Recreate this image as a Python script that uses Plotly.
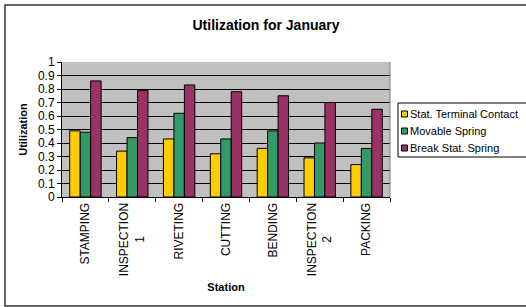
import plotly.graph_objects as go

NB = "\u00a0"
stations = ["STAMPING", "INSPECTION<br>1" + NB * 10, "RIVETING", "CUTTING", "BENDING", "INSPECTION<br>2" + NB * 10, "PACKING"]
series_names = ["Stat. Terminal Contact", "Movable Spring", "Break Stat. Spring"]
stat_terminal = [0.49, 0.34, 0.43, 0.32, 0.36, 0.29, 0.24]
movable_spring = [0.48, 0.44, 0.62, 0.43, 0.49, 0.40, 0.36]
break_spring = [0.86, 0.79, 0.83, 0.78, 0.75, 0.70, 0.65]
colors = ["#FFCC00", "#339966", "#993366"]
y_ticks = [0, 0.1, 0.2, 0.3, 0.4, 0.5, 0.6, 0.7, 0.8, 0.9, 1]
y_labels = ["0", "0.1", "0.2", "0.3", "0.4", "0.5", "0.6", "0.7", "0.8", "0.9", "1"]

font = "Liberation Sans, Arial, sans-serif"
fig = go.Figure()
for name, vals, col in zip(series_names, [stat_terminal, movable_spring, break_spring], colors):
    fig.add_trace(go.Bar(x=stations, y=vals, name=name, marker=dict(color=col, line=dict(color="black", width=1))))

W, H = 526, 307
L, R, T, B = 62, 136, 62, 110
pw, ph = W - L - R, H - T - B
def px(x): return (x - L) / pw
def py(y): return (H - B - y) / ph

fig.update_layout(
    width=W, height=H, margin=dict(l=L, r=R, t=T, b=B, autoexpand=False),
    paper_bgcolor="white", plot_bgcolor="#C0C0C0",
    barmode="group", bargap=0.33, bargroupgap=0,
    font=dict(family=font, size=11, color="black"),
    title=dict(text="<b>Utilization for January</b>", x=266 / W, xanchor="center", y=1 - 25 / H, yanchor="middle",
               font=dict(size=14, family=font)),
    showlegend=False,
    xaxis=dict(tickangle=-90, ticks="outside", ticklen=4, tickcolor="black", tickson="boundaries",
               showline=True, linecolor="black", linewidth=1,
               title=dict(text="<b>Station</b>", font=dict(size=11), standoff=8),
               tickfont=dict(size=12)),
    yaxis=dict(range=[0, 1], tickvals=y_ticks, ticktext=y_labels, ticks="outside", ticklen=4, tickcolor="black",
               showline=True, linecolor="black", linewidth=1, gridcolor="black", gridwidth=1,
               zeroline=False, title=dict(text="<b>Utilization</b>", font=dict(size=11), standoff=8),
               tickfont=dict(size=12)),
)
# outer chart border
fig.add_shape(type="rect", xref="paper", yref="paper", x0=px(5), x1=px(530), y0=py(306), y1=py(5),
              line=dict(color="#333333", width=1.5), layer="below")
fig.add_shape(type="line", xref="paper", yref="paper", x0=1, x1=1, y0=0, y1=1, line=dict(color="#808080", width=1))

# custom legend
fig.add_shape(type="rect", xref="paper", yref="paper", x0=px(398), x1=px(530), y0=py(157), y1=py(103),
              line=dict(color="black", width=1), fillcolor="white")
for i, (name, col) in enumerate(zip(series_names, colors)):
    cy = 114 + 17 * i
    fig.add_shape(type="rect", xref="paper", yref="paper", x0=px(401.5), x1=px(407.5), y0=py(cy + 3), y1=py(cy - 3),
                  line=dict(color="black", width=1), fillcolor=col)
    fig.add_annotation(xref="paper", yref="paper", x=px(408), y=py(cy), xanchor="left", yanchor="middle",
                       text=name, showarrow=False, font=dict(size=11, family=font))

fig.write_html("out.html", config={"displayModeBar": False},
               post_script="document.body.style.margin='0';document.body.style.overflow='hidden';")
